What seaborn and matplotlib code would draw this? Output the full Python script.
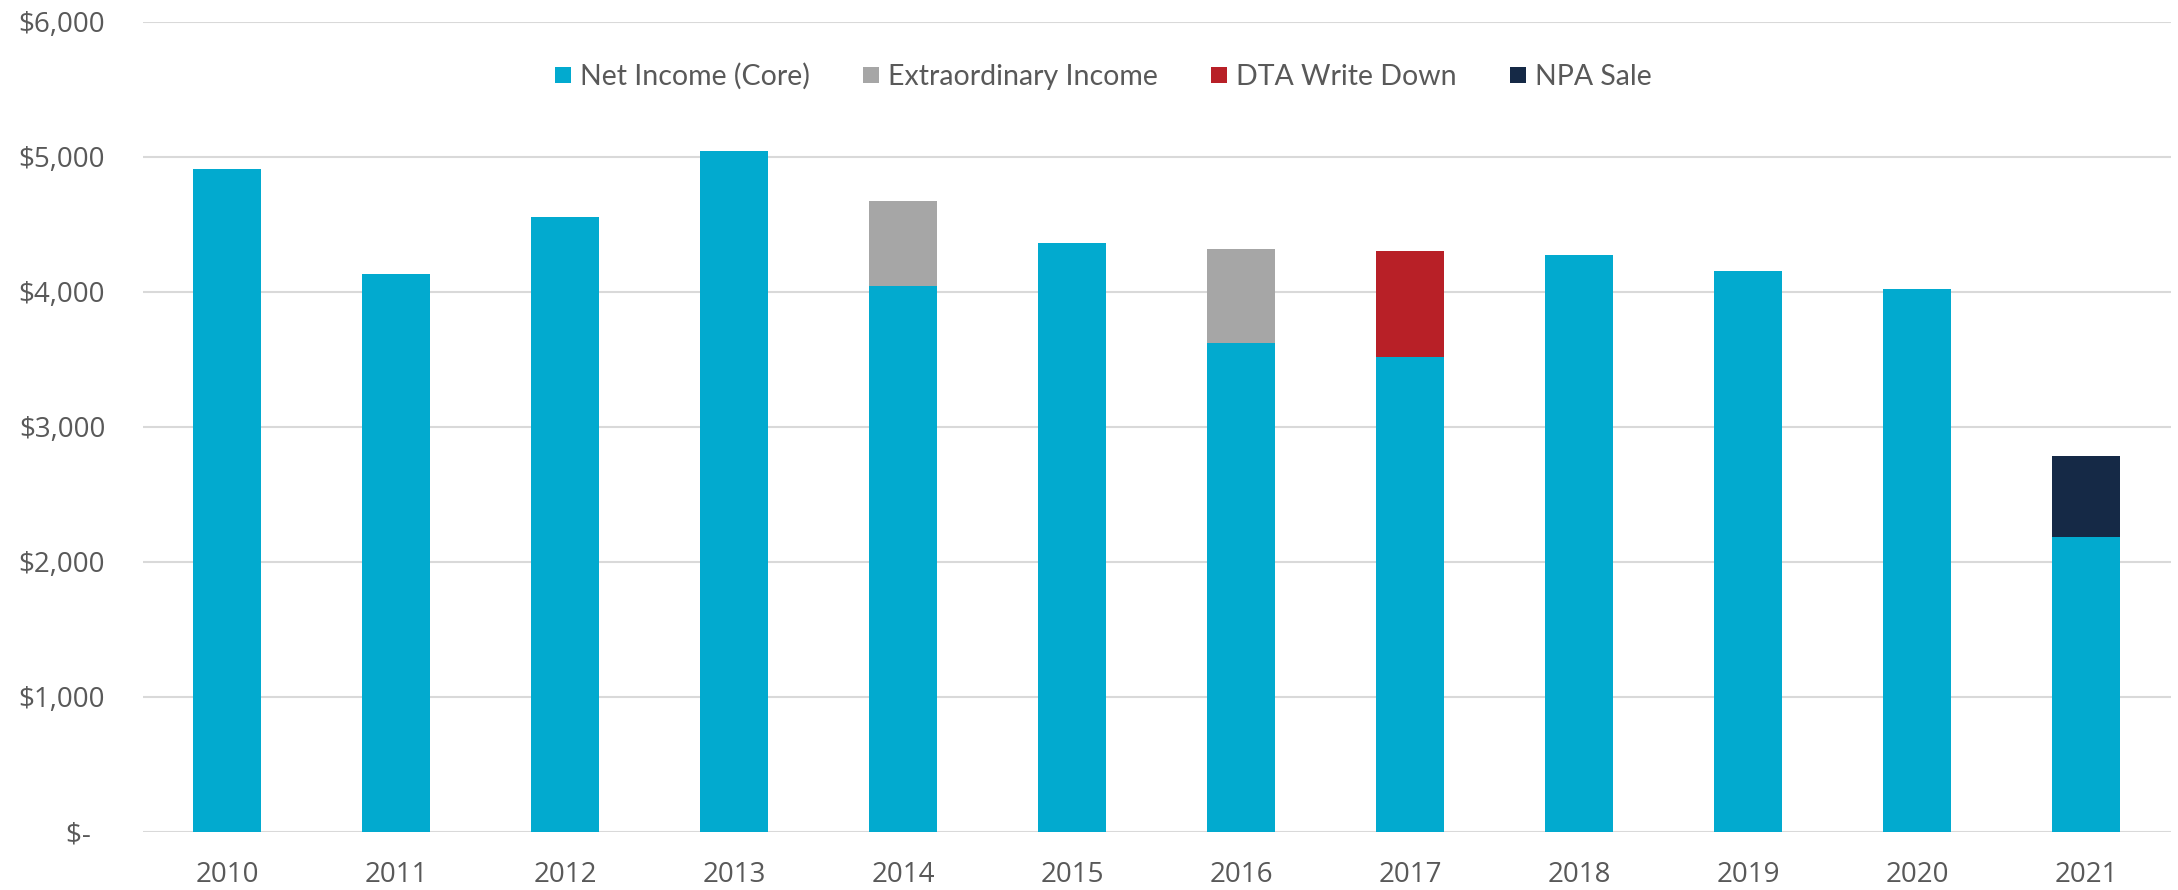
import matplotlib
matplotlib.use("Agg")
import matplotlib.pyplot as plt
import seaborn as sns
import pandas as pd
import numpy as np
from matplotlib.lines import Line2D
from matplotlib.ticker import FuncFormatter, FixedLocator

years = ["2010", "2011", "2012", "2013", "2014", "2015", "2016", "2017", "2018", "2019", "2020", "2021"]
net_income_core = [4910, 4130, 4550, 5040, 4040, 4360, 3620, 3520, 4270, 4150, 4020, 2180]
extraordinary_income = [0, 0, 0, 0, 630, 0, 700, 0, 0, 0, 0, 0]
dta_write_down = [0, 0, 0, 0, 0, 0, 0, 780, 0, 0, 0, 0]
npa_sale = [0, 0, 0, 0, 0, 0, 0, 0, 0, 0, 0, 600]
series_names = ["Net Income (Core)", "Extraordinary Income", "DTA Write Down", "NPA Sale"]
colors = ["#02AACF", "#A6A6A6", "#B82027", "#152946"]
y_ticks = [0, 1000, 2000, 3000, 4000, 5000, 6000]

sns.set_theme(style="white")
plt.rcParams["font.family"] = ["Open Sans", "DejaVu Sans"]
text_color = "#595959"

df = pd.DataFrame({
    "year": years,
    "core": net_income_core,
    "extra": extraordinary_income,
    "dta": dta_write_down,
    "npa": npa_sale,
})
df["lvl1"] = df["core"]
df["lvl2"] = df["lvl1"] + df["extra"]
df["lvl3"] = df["lvl2"] + df["dta"]
df["lvl4"] = df["lvl3"] + df["npa"]

fig = plt.figure(figsize=(21.78, 8.9), dpi=100)
ax = fig.add_axes([142.7 / 2178, (890 - 831.7) / 890, (2170.7 - 142.7) / 2178, (831.7 - 21.7) / 890])

for lvl, col in zip(["lvl4", "lvl3", "lvl2", "lvl1"], colors[::-1]):
    sns.barplot(data=df, x="year", y=lvl, color=col, width=0.40, ax=ax,
                saturation=1, linewidth=0, order=years)

ax.set_ylim(0, 6000)
ax.set_xlim(-0.5, len(years) - 0.5)
ax.yaxis.set_major_locator(FixedLocator(y_ticks))
ax.yaxis.set_major_formatter(FuncFormatter(lambda v, p: "$-  " if v == 0 else "${:,.0f}".format(v)))
ax.grid(axis="y", color="#D9D9D9", linewidth=1.5)
ax.set_axisbelow(True)
for s in ax.spines.values():
    s.set_visible(False)
ax.set_xlabel("")
ax.set_ylabel("")
ax.tick_params(axis="x", length=0, pad=21, labelsize=20, labelcolor=text_color)
ax.tick_params(axis="y", length=0, pad=27, labelsize=20, labelcolor=text_color)

handles = [Line2D([0], [0], marker="s", linestyle="none", markersize=12.2,
                  markerfacecolor=c, markeredgewidth=0) for c in colors]
leg = fig.legend(handles, series_names, loc="center", bbox_to_anchor=(1103 / 2178, 1 - 76.7 / 890),
                 ncol=4, frameon=False, handlelength=0.6, handletextpad=0.3, columnspacing=1.85,
                 prop={"family": ["Lato", "DejaVu Sans"], "size": 20.5})
for t in leg.get_texts():
    t.set_color(text_color)

fig.savefig("out.png", dpi=100)
